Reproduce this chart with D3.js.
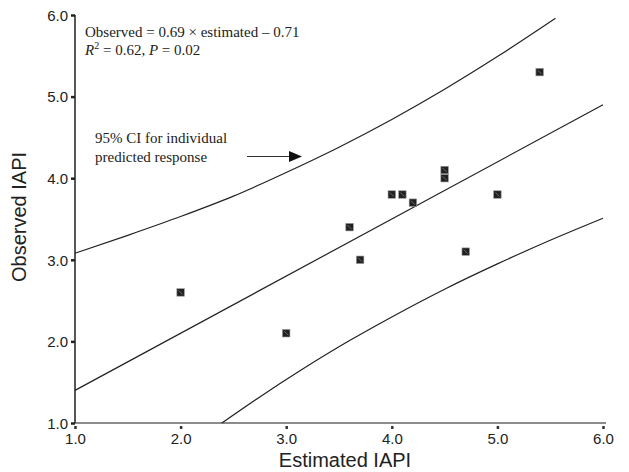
<!DOCTYPE html>
<html lang="en">
<head>
<meta charset="utf-8">
<script src="https://d3js.org/d3.v7.min.js"></script>
<style type="text/css">
body {
	margin: 0;
	background: white;
}
.tick text {
	font: 15px "Liberation Sans", Arial, sans-serif;
	fill: #222;
}
.note {
	font: 15px "Liberation Serif", "Times New Roman", serif;
	fill: #222;
}
.axis-title {
	font: 20px "Liberation Sans", Arial, sans-serif;
	fill: #222;
}
</style>
</head>
<body>
<svg id="chart"></svg>
<script type="text/javascript">

// observed vs estimated IAPI
var estimated = [2.0, 3.0, 3.6, 3.7, 4.0, 4.1, 4.2, 4.5, 4.5, 4.7, 5.0, 5.4];
var observed  = [2.6, 2.1, 3.4, 3.0, 3.8, 3.8, 3.7, 4.1, 4.0, 3.1, 3.8, 5.3];

// fitted line and 95% prediction band
var fitLine = [[1.0, 1.40], [6.0, 4.90]];
var upperCI = [[1.0, 3.08], [1.5, 3.30], [2.0, 3.53], [2.5, 3.78], [3.0, 4.07], [3.5, 4.38],
	[4.0, 4.72], [4.5, 5.09], [5.0, 5.49], [5.55, 5.96]];
var lowerCI = [[2.39, 1.0], [2.75, 1.32], [3.13, 1.64], [3.6, 2.01], [4.0, 2.30], [4.5, 2.64],
	[5.0, 2.95], [5.5, 3.24], [6.0, 3.51]];

var xTicks = [1, 2, 3, 4, 5, 6];
var yTicks = [1, 2, 3, 4, 5, 6];

var width = 629;
var height = 472;

var svg = d3.select("#chart")
	.attr("width", width)
	.attr("height", height);

var x = d3.scaleLinear().domain([1, 6]).range([75, 603]);
var y = d3.scaleLinear().domain([1, 6]).range([423, 15]);

// x axis
var xAxis = svg.append("g")
	.attr("transform", "translate(0," + y(1) + ")")
	.call(d3.axisBottom(x).tickValues(xTicks).tickFormat(d3.format(".1f")).tickSize(0).tickPadding(10));
xAxis.select(".domain").attr("d", "M" + x(1) + ",0H" + (x(6) + 3)).attr("stroke", "#666").attr("stroke-width", 1.6);
xAxis.selectAll(".tick line").attr("y1", 3).attr("y2", 6).attr("stroke", "#333").attr("stroke-width", 2.5);

// y axis
var yAxis = svg.append("g")
	.attr("transform", "translate(" + x(1) + ",0)")
	.call(d3.axisLeft(y).tickValues(yTicks).tickFormat(d3.format(".1f")).tickSize(4).tickPadding(3));
yAxis.select(".domain").attr("d", "M0," + y(6) + "V" + y(1)).attr("stroke", "#111").attr("stroke-width", 1.4);
yAxis.selectAll(".tick line").attr("stroke", "#222").attr("stroke-width", 2.5);
yAxis.selectAll(".tick text").attr("dy", "0.35em");

// lines
var line = d3.line()
	.x(function(d) { return x(d[0]); })
	.y(function(d) { return y(d[1]); })
	.curve(d3.curveMonotoneX);

svg.selectAll("path.fit")
	.data([fitLine, upperCI, lowerCI])
	.join("path")
	.attr("class", "fit")
	.attr("d", line)
	.attr("fill", "none")
	.attr("stroke", "#222")
	.attr("stroke-width", 1.2);

// points
var points = estimated.map(function(e, i) { return [e, observed[i]]; });
var pt = svg.selectAll("g.pt")
	.data(points)
	.join("g")
	.attr("class", "pt")
	.attr("transform", function(d) { return "translate(" + x(d[0]) + "," + y(d[1]) + ")"; });
pt.append("rect")
	.attr("x", -3.75).attr("y", -3.75)
	.attr("width", 7.5).attr("height", 7.5)
	.attr("fill", "#222")
	.attr("stroke", "#999")
	.attr("stroke-width", 0.6);
pt.append("line")
	.attr("x1", -2).attr("y1", -2).attr("x2", 2).attr("y2", 2)
	.attr("stroke", "#888")
	.attr("stroke-width", 0.7);

// annotations
var note = svg.append("text").attr("class", "note").attr("x", 85).attr("y", 37);
note.append("tspan").text("Observed = 0.69 \u00d7 estimated \u2013 0.71");
var note2 = svg.append("text").attr("class", "note").attr("x", 85).attr("y", 55);
note2.append("tspan").attr("font-style", "italic").text("R");
note2.append("tspan").attr("font-size", "10px").attr("dy", -6).text("2");
note2.append("tspan").attr("dy", 6).text(" = 0.62, ");
note2.append("tspan").attr("font-style", "italic").text("P");
note2.append("tspan").text(" = 0.02");

svg.append("text").attr("class", "note").attr("x", 95).attr("y", 143).text("95% CI for individual");
svg.append("text").attr("class", "note").attr("x", 95).attr("y", 162).text("predicted response");

svg.append("line")
	.attr("x1", 247).attr("y1", 156.5).attr("x2", 291).attr("y2", 156.5)
	.attr("stroke", "#333").attr("stroke-width", 1.2);
svg.append("path")
	.attr("d", "M289,151L302,156.5L289,162Z")
	.attr("fill", "#111");

// axis titles
svg.append("text")
	.attr("class", "axis-title")
	.attr("x", 345).attr("y", 467)
	.attr("text-anchor", "middle")
	.text("Estimated IAPI");

svg.append("text")
	.attr("class", "axis-title")
	.attr("transform", "translate(26,217) rotate(-90)")
	.attr("text-anchor", "middle")
	.text("Observed IAPI");

</script>
</body>
</html>
